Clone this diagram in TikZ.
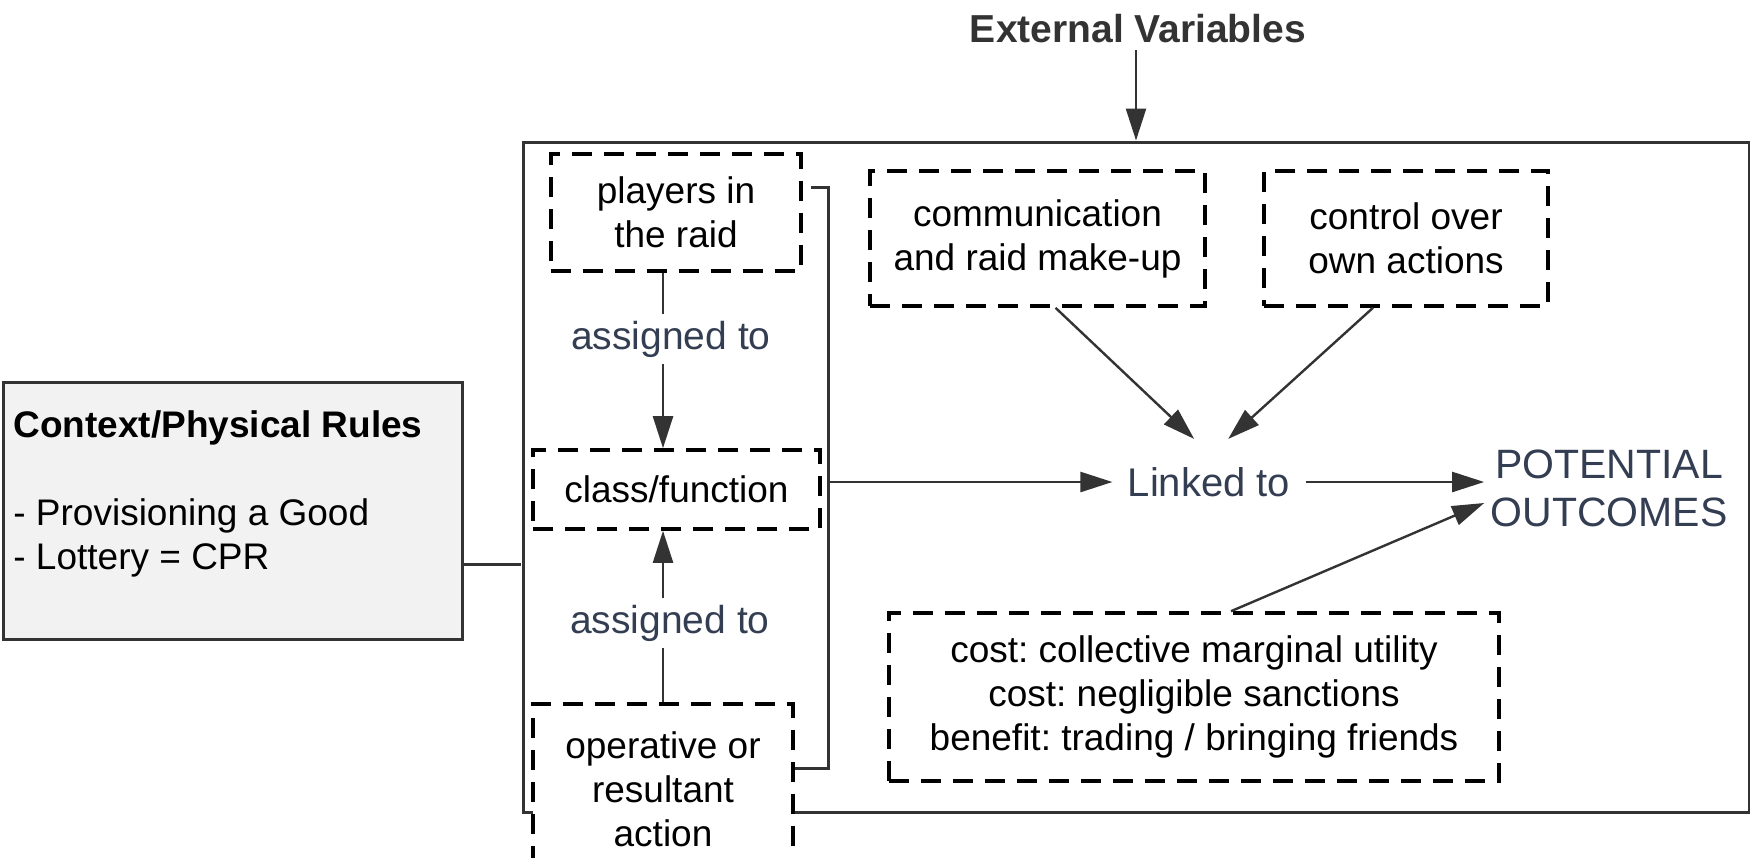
\documentclass[tikz,border=0pt]{standalone}
\usepackage{fontspec}
\setmainfont{Liberation Sans}
\usetikzlibrary{arrows.meta,positioning,calc}
\definecolor{framegray}{RGB}{51,51,51}
\definecolor{labelslate}{RGB}{52,62,82}
\definecolor{ctxfill}{RGB}{242,242,242}
\frenchspacing

\begin{document}
\begin{tikzpicture}[x=0.5pt,y=-0.5pt,font=\fontsize{18.5}{22}\selectfont,
  dbox/.style={draw=black,line width=1.8pt,dash pattern=on 10pt off 6pt,fill=white,align=center,inner sep=0pt},
  arr/.style={draw=framegray,line width=1.2pt,-{Triangle[length=16pt,width=10pt]}},
  plain/.style={draw=framegray,line width=1.5pt},
  lbl/.style={text=labelslate,font=\fontsize{19.5}{23}\selectfont}]
\useasboundingbox (0,0) rectangle (1750,857);
\node[font=\bfseries\fontsize{19.5}{23}\selectfont,text=framegray] (ext) at (1138,29) {External Variables};
\node[plain,minimum width=613pt,minimum height=335pt] (frame) at (1136,477) {};
\draw[arr] (ext.south -| frame.north) -- (frame.north);
\node[plain,fill=ctxfill,minimum width=229.5pt,minimum height=128.5pt] (ctx) at (232.5,510.5) {};
\node[anchor=north west,align=left,inner sep=0pt] (ctxtxt) at (13,410) {\textbf{Context/Physical Rules}\\[22pt]- Provisioning a Good\\- Lottery = CPR};
\coordinate (join) at (521,564);
\draw[plain] (join -| ctx.east) -- (join);
\node[dbox,minimum width=125pt,minimum height=58.5pt] (players) at (676,212.5) {players in\\the raid};
\node[dbox,minimum width=143.5pt,minimum height=39.5pt] (class) at (676.5,489.5) {class/function};
\node[dbox,minimum width=130pt,minimum height=85pt] (oper) at (663,789) {operative or\\resultant\\action};
\node[dbox,minimum width=167.5pt,minimum height=67.5pt] (comm) at (1037.5,238.5) {communication\\and raid make-up};
\node[dbox,minimum width=142pt,minimum height=67.5pt] (ctrl) at (1406,238.5) {control over\\own actions};
\node[dbox,minimum width=305pt,minimum height=84pt] (cost) at (1194,697) {cost: collective marginal utility\\cost: negligible sanctions\\benefit: trading / bringing friends};
\node[lbl] (asg1) at (671,339) {assigned to};
\node[lbl] (asg2) at (670,623) {assigned to};
\node[text=labelslate,font=\fontsize{20}{24}\selectfont,inner xsep=7.5pt,inner ysep=14pt] (linked) at (1209,482) {Linked to};
\node[text=labelslate,font=\fontsize{20.5}{24}\selectfont,align=center,inner sep=3pt] (outc) at (1609,488) {POTENTIAL\\OUTCOMES};
\draw[draw=framegray,line width=1.2pt] (players.south -| oper.north) -- (asg1.north -| oper.north);
\draw[arr] (asg1.south -| oper.north) -- (class.north -| oper.north);
\draw[draw=framegray,line width=1.2pt] (oper.north) -- (asg2.south -| oper.north);
\draw[arr] (asg2.north -| oper.north) -- (class.south -| oper.north);
\coordinate (brk) at (828,187);
\coordinate (brkbot) at (828,768);
\draw[plain] ([xshift=4pt]players.east |- brk) -- (brk) -- (brkbot) -- (oper.east |- brkbot);
\draw[arr] (brk |- linked.west) -- (linked.west);
\draw[arr] (linked.east) -- (linked.east -| outc.west);
\draw[arr] ([xshift=9pt]comm.south) -- (linked.109);
\draw[arr] ([xshift=-16.5pt]ctrl.south) -- (linked.66);
\draw[arr] ([xshift=18.5pt]cost.north) -- ([yshift=-7.5pt]outc.west);
\end{tikzpicture}
\end{document}
